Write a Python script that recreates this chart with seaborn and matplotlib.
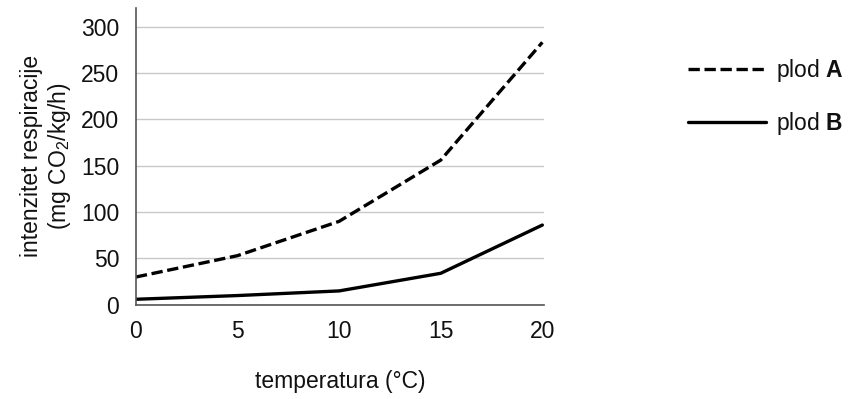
import pandas as pd
import matplotlib.pyplot as plt
import seaborn as sns

# values
temperature = [0, 5, 10, 15, 20]
plod_a = [30, 53, 90, 156, 283]
plod_b = [6, 10, 15, 34, 86]
labels = ["plod $\\mathbf{A}$", "plod $\\mathbf{B}$"]

df = pd.DataFrame({
    "temperatura": temperature * 2,
    "intenzitet": plod_a + plod_b,
    "plod": [labels[0]] * 5 + [labels[1]] * 5,
})

sns.set_style("white")
plt.rcParams["font.family"] = ["Liberation Sans", "DejaVu Sans"]
plt.rcParams["mathtext.fontset"] = "custom"
plt.rcParams["mathtext.rm"] = "Liberation Sans"
plt.rcParams["mathtext.bf"] = "Liberation Sans:bold"
plt.rcParams["text.color"] = "#111111"
plt.rcParams["axes.labelcolor"] = "#111111"

fig = plt.figure(figsize=(8.6, 3.99), dpi=100)
ax = fig.add_axes([0.158, 0.236, 0.475, 0.744])

sns.lineplot(data=df, x="temperatura", y="intenzitet", style="plod",
             dashes={labels[0]: (3.4, 1.4), labels[1]: ""},
             color="black", linewidth=2.4, ax=ax)

ax.set_xlim(0, 20.1)
ax.set_ylim(0, 320)
ax.set_xticks(temperature)
ax.set_yticks(range(0, 301, 50))
ax.yaxis.grid(True, color="#c8c8c8", linewidth=1)
ax.set_axisbelow(True)
for s in ["top", "right"]:
    ax.spines[s].set_visible(False)
for s in ["left", "bottom"]:
    ax.spines[s].set_color("#555555")
    ax.spines[s].set_linewidth(1.2)
ax.tick_params(axis="both", length=8, width=1, color="#555555",
               labelsize=16.5, labelcolor="#111111", direction="out", pad=3)
ax.tick_params(axis="y", pad=4)

ax.set_xlabel("temperatura (°C)", fontsize=16.5, labelpad=19)
ax.set_ylabel("intenzitet respiracije\n(mg CO$_2$/kg/h)", fontsize=16.5,
              labelpad=6, linespacing=1.15)

leg = ax.legend(loc="upper left", bbox_to_anchor=(0.8, 0.857),
                bbox_transform=fig.transFigure, frameon=False,
                borderpad=0, borderaxespad=0,
                handlelength=3.4, handletextpad=0.45, labelspacing=1.15,
                fontsize=16.5)

plt.savefig("out.png", dpi=100)
